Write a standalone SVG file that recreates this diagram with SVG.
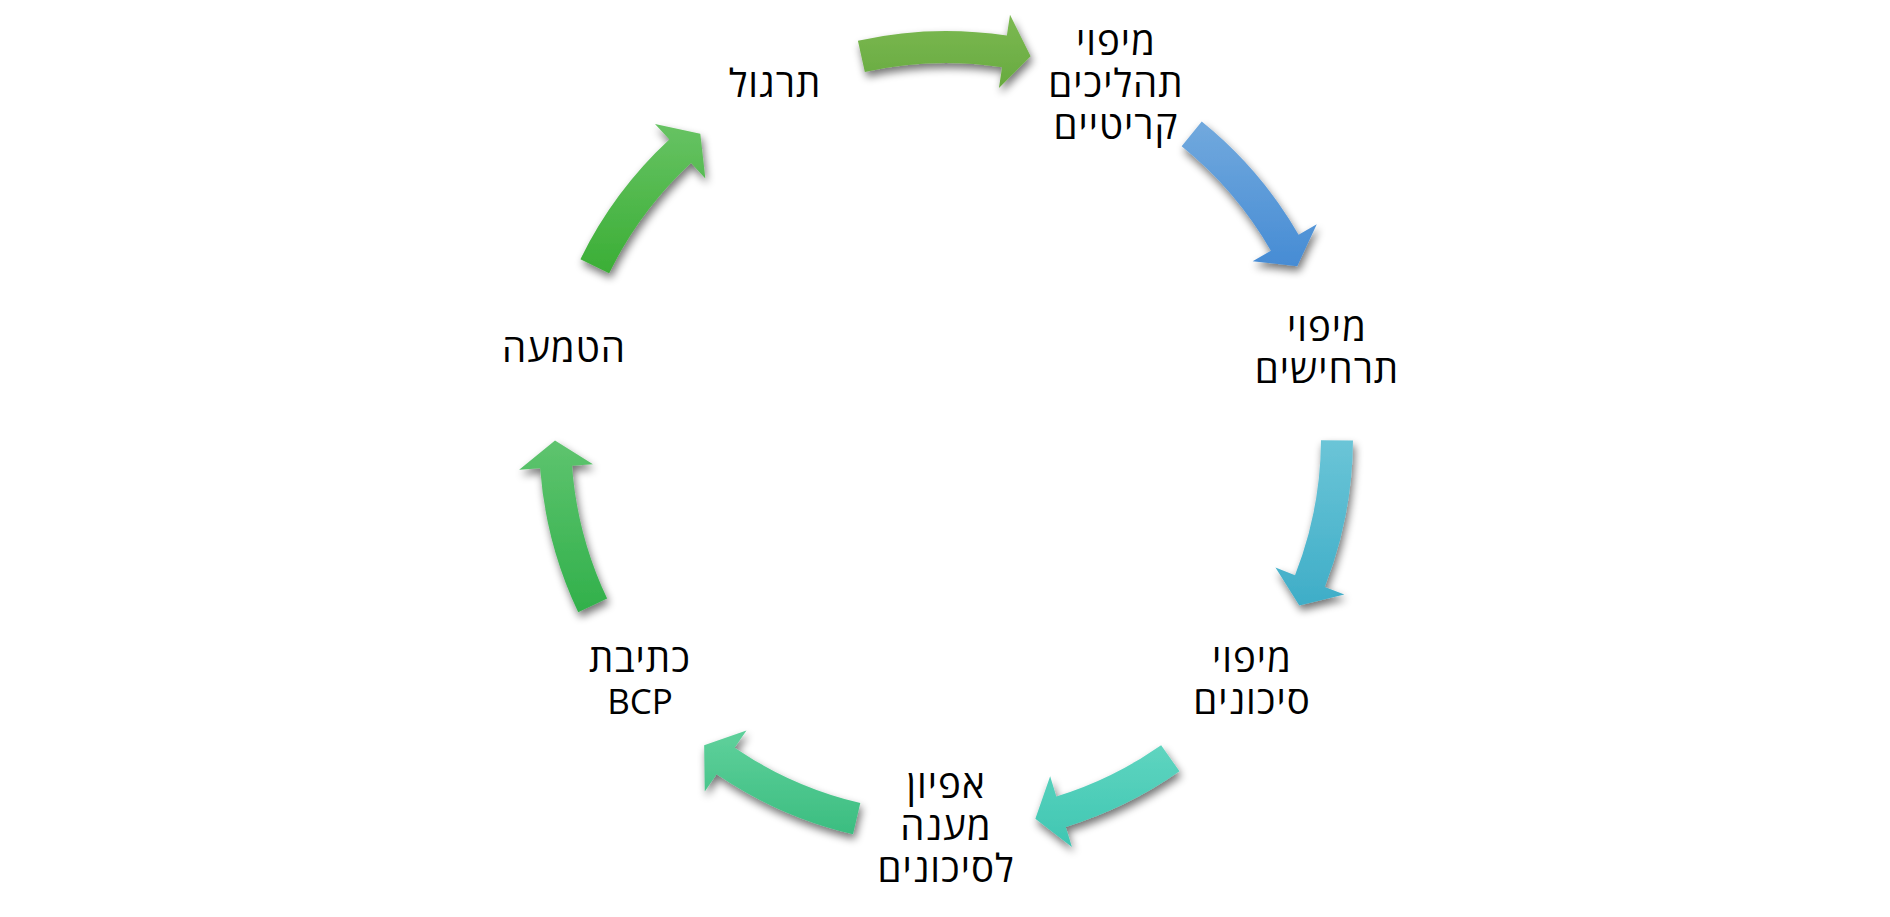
<svg xmlns="http://www.w3.org/2000/svg" width="1890" height="917" viewBox="0 0 1890 917">
  <style>
    .lbl { font-family: "Open Sans", "DejaVu Sans", sans-serif; font-size: 38.5px; letter-spacing: 1px; fill: #000000; text-anchor: middle; }
    .lat { font-size: 35px; letter-spacing: 0px; }
  </style>
  <defs>
    <filter id="sh" x="-30%" y="-30%" width="160%" height="160%">
      <feGaussianBlur in="SourceAlpha" stdDeviation="4"/>
      <feOffset dx="2" dy="5" result="b"/>
      <feComponentTransfer><feFuncA type="linear" slope="0.55"/></feComponentTransfer>
      <feMerge><feMergeNode/><feMergeNode in="SourceGraphic"/></feMerge>
    </filter>
    <path id="arr" d="M -88.09 -397.35 A 407 407 0 0 1 60.86 -402.43 L 64.00 -423.19 L 84.63 -381.73 L 52.94 -350.02 L 56.08 -370.79 A 375 375 0 0 0 -81.17 -366.11 Z"/>
    <path id="arrShort" d="M -65.77 -401.65 A 407 407 0 0 1 60.86 -402.43 L 64.00 -423.19 L 84.63 -381.73 L 52.94 -350.02 L 56.08 -370.79 A 375 375 0 0 0 -60.60 -370.07 Z"/>
    <linearGradient id="g1" gradientUnits="userSpaceOnUse" x1="0" y1="-423" x2="0" y2="-350" gradientTransform="rotate(0)">
      <stop offset="0" stop-color="#7cb952"/><stop offset="1" stop-color="#67aa3f"/>
    </linearGradient>
    <linearGradient id="g2" gradientUnits="userSpaceOnUse" x1="0" y1="-311" x2="0" y2="-168" gradientTransform="rotate(-51.43)">
      <stop offset="0" stop-color="#70a8dd"/><stop offset="1" stop-color="#458bd4"/>
    </linearGradient>
    <linearGradient id="g3" gradientUnits="userSpaceOnUse" x1="0" y1="-6" x2="0" y2="162" gradientTransform="rotate(-102.86)">
      <stop offset="0" stop-color="#6dc6d8"/><stop offset="1" stop-color="#40aec8"/>
    </linearGradient>
    <linearGradient id="g4" gradientUnits="userSpaceOnUse" x1="0" y1="304" x2="0" y2="412" gradientTransform="rotate(-154.29)">
      <stop offset="0" stop-color="#60d5c0"/><stop offset="1" stop-color="#3ec6b2"/>
    </linearGradient>
    <linearGradient id="g5" gradientUnits="userSpaceOnUse" x1="0" y1="302" x2="0" y2="397" gradientTransform="rotate(-205.71)">
      <stop offset="0" stop-color="#5ccf99"/><stop offset="1" stop-color="#3bbd80"/>
    </linearGradient>
    <linearGradient id="g6" gradientUnits="userSpaceOnUse" x1="0" y1="-8" x2="0" y2="167" gradientTransform="rotate(-257.14)">
      <stop offset="0" stop-color="#61c571"/><stop offset="1" stop-color="#33b14c"/>
    </linearGradient>
    <linearGradient id="g7" gradientUnits="userSpaceOnUse" x1="0" y1="-310" x2="0" y2="-163" gradientTransform="rotate(-308.57)">
      <stop offset="0" stop-color="#66c262"/><stop offset="1" stop-color="#3aae35"/>
    </linearGradient>
  </defs>
  <rect width="1890" height="917" fill="#ffffff"/>

  <g id="connectors" transform="translate(946 438)">
    <g filter="url(#sh)"><use href="#arr" fill="url(#g1)"/></g>
    <g filter="url(#sh)"><use href="#arr" fill="url(#g2)" transform="rotate(51.43)"/></g>
    <g filter="url(#sh)"><use href="#arr" fill="url(#g3)" transform="rotate(102.86)"/></g>
    <g filter="url(#sh)"><use href="#arrShort" fill="url(#g4)" transform="rotate(154.29)"/></g>
    <g filter="url(#sh)"><use href="#arr" fill="url(#g5)" transform="rotate(205.71)"/></g>
    <g filter="url(#sh)"><use href="#arr" fill="url(#g6)" transform="rotate(257.14)"/></g>
    <g filter="url(#sh)"><use href="#arr" fill="url(#g7)" transform="rotate(308.57)"/></g>
  </g>

  <g id="node-practice">
    <text class="lbl" x="775" y="97">תרגול</text>
  </g>
  <g id="node-critical-processes">
    <text class="lbl"><tspan x="1116" y="55">מיפוי</tspan><tspan x="1116" y="97">תהליכים</tspan><tspan x="1116" y="139">קריטיים</tspan></text>
  </g>
  <g id="node-scenarios">
    <text class="lbl"><tspan x="1327" y="341">מיפוי</tspan><tspan x="1327" y="383">תרחישים</tspan></text>
  </g>
  <g id="node-risks">
    <text class="lbl"><tspan x="1252" y="672">מיפוי</tspan><tspan x="1252" y="714">סיכונים</tspan></text>
  </g>
  <g id="node-risk-response">
    <text class="lbl"><tspan x="946" y="798">אפיון</tspan><tspan x="946" y="840">מענה</tspan><tspan x="946" y="882">לסיכונים</tspan></text>
  </g>
  <g id="node-bcp">
    <text class="lbl"><tspan x="640" y="672">כתיבת</tspan><tspan class="lat" x="640" y="714">BCP</tspan></text>
  </g>
  <g id="node-implementation">
    <text class="lbl" x="564" y="362">הטמעה</text>
  </g>
</svg>
